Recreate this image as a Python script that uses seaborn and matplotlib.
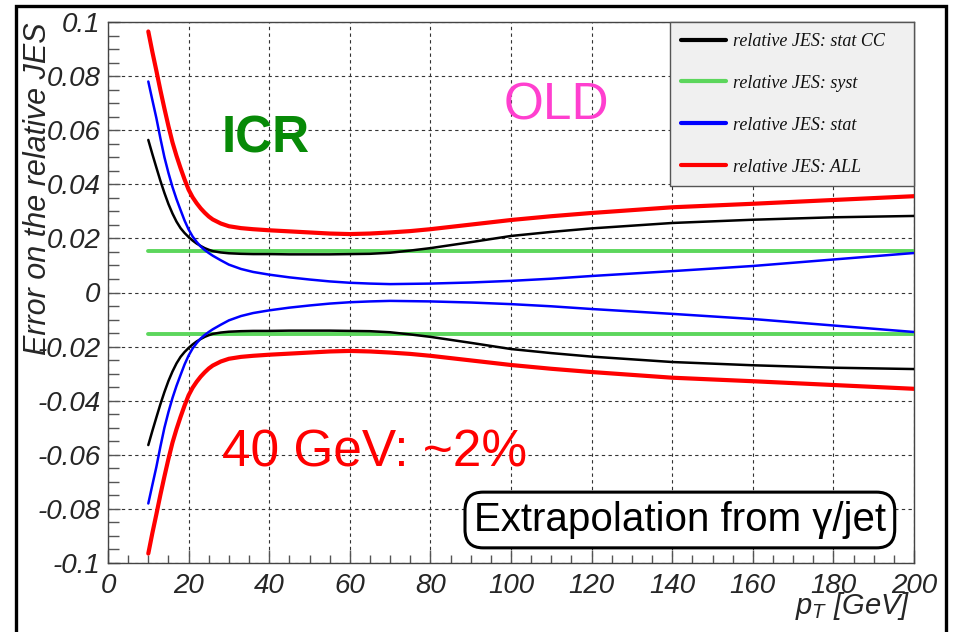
import matplotlib
matplotlib.use("Agg")
import matplotlib.pyplot as plt
import matplotlib.patches as mpatches
from matplotlib.ticker import MultipleLocator, FixedLocator, FixedFormatter
import seaborn as sns
import pandas as pd

# ---------------- data ----------------
pt = [10, 11, 12, 13, 14, 15, 16, 17, 18, 19, 20, 21, 22, 23, 24, 25, 26, 28, 30, 33, 36, 40,
      45, 50, 55, 60, 65, 70, 75, 80, 90, 100, 110, 120, 140, 160, 180, 200]

all_up = [0.0965, 0.0890, 0.0820, 0.0748, 0.0680, 0.0615, 0.0555, 0.0505, 0.0460, 0.0418, 0.0380,
          0.0352, 0.0330, 0.0311, 0.0295, 0.0281, 0.0270, 0.0255, 0.0245, 0.0238, 0.0234, 0.0230,
          0.0226, 0.0222, 0.0218, 0.0216, 0.0218, 0.0222, 0.0227, 0.0234, 0.0251, 0.0268, 0.0282,
          0.0294, 0.0315, 0.0328, 0.0342, 0.0356]
all_dn = [-0.0965, -0.0890, -0.0820, -0.0748, -0.0680, -0.0615, -0.0555, -0.0505, -0.0460, -0.0418, -0.0380,
          -0.0352, -0.0330, -0.0311, -0.0295, -0.0281, -0.0270, -0.0255, -0.0245, -0.0238, -0.0234, -0.0230,
          -0.0226, -0.0222, -0.0218, -0.0216, -0.0218, -0.0222, -0.0227, -0.0234, -0.0251, -0.0268, -0.0282,
          -0.0294, -0.0315, -0.0328, -0.0342, -0.0356]

statcc_up = [0.0564, 0.0512, 0.0462, 0.0413, 0.0368, 0.0327, 0.0292, 0.0262, 0.0238, 0.0220, 0.0205,
             0.0192, 0.0181, 0.0172, 0.0164, 0.0158, 0.0153, 0.0148, 0.0145, 0.0143, 0.0142, 0.0142,
             0.0141, 0.0141, 0.0141, 0.0142, 0.0143, 0.0147, 0.0155, 0.0164, 0.0186, 0.0209, 0.0224,
             0.0237, 0.0257, 0.0269, 0.0278, 0.0283]
statcc_dn = [-0.0564, -0.0512, -0.0462, -0.0413, -0.0368, -0.0327, -0.0292, -0.0262, -0.0238, -0.0220, -0.0205,
             -0.0192, -0.0181, -0.0172, -0.0164, -0.0158, -0.0153, -0.0148, -0.0145, -0.0143, -0.0142, -0.0142,
             -0.0141, -0.0141, -0.0141, -0.0142, -0.0143, -0.0147, -0.0155, -0.0164, -0.0186, -0.0209, -0.0224,
             -0.0237, -0.0257, -0.0269, -0.0278, -0.0283]

stat_up = [0.0780, 0.0712, 0.0645, 0.0570, 0.0500, 0.0442, 0.0390, 0.0345, 0.0305, 0.0266, 0.0233,
           0.0207, 0.0187, 0.0170, 0.0157, 0.0146, 0.0136, 0.0119, 0.0103, 0.0087, 0.0076, 0.0066,
           0.0056, 0.0048, 0.0041, 0.0036, 0.0033, 0.0031, 0.0032, 0.0033, 0.0037, 0.0043, 0.0051,
           0.0061, 0.0079, 0.0098, 0.0122, 0.0146]
stat_dn = [-0.0780, -0.0712, -0.0645, -0.0570, -0.0500, -0.0442, -0.0390, -0.0345, -0.0305, -0.0266, -0.0233,
           -0.0207, -0.0187, -0.0170, -0.0157, -0.0146, -0.0136, -0.0119, -0.0103, -0.0087, -0.0076, -0.0066,
           -0.0056, -0.0048, -0.0041, -0.0036, -0.0033, -0.0031, -0.0032, -0.0033, -0.0037, -0.0043, -0.0051,
           -0.0061, -0.0079, -0.0098, -0.0122, -0.0146]

syst_pt = [10, 200]
syst_up = [0.0155, 0.0155]
syst_dn = [-0.0155, -0.0155]

xtick_vals = [0, 20, 40, 60, 80, 100, 120, 140, 160, 180, 200]
xtick_labels = ["0", "20", "40", "60", "80", "100", "120", "140", "160", "180", "200"]
ytick_vals = [-0.1, -0.08, -0.06, -0.04, -0.02, 0, 0.02, 0.04, 0.06, 0.08, 0.1]
ytick_labels = ["-0.1", "-0.08", "-0.06", "-0.04", "-0.02", "0", "0.02", "0.04", "0.06", "0.08", "0.1"]

legend_labels = ["relative JES: stat CC", "relative JES: syst", "relative JES: stat", "relative JES: ALL"]

# ---------------- style ----------------
sns.set_style("white")
plt.rcParams['font.family'] = ['Liberation Sans', 'DejaVu Sans']
plt.rcParams['mathtext.fontset'] = 'custom'
plt.rcParams['mathtext.it'] = 'Liberation Sans:italic'
plt.rcParams['mathtext.rm'] = 'Liberation Sans:italic'

fig = plt.figure(figsize=(9.57, 6.32), dpi=100)
fig.patch.set_facecolor('white')
ax = fig.add_axes([108 / 957, (632 - 563) / 632, 806 / 957, 541 / 632])

df_cc_up = pd.DataFrame({"pt": pt, "v": statcc_up})
df_cc_dn = pd.DataFrame({"pt": pt, "v": statcc_dn})
df_sy_up = pd.DataFrame({"pt": syst_pt, "v": syst_up})
df_sy_dn = pd.DataFrame({"pt": syst_pt, "v": syst_dn})
df_st_up = pd.DataFrame({"pt": pt, "v": stat_up})
df_st_dn = pd.DataFrame({"pt": pt, "v": stat_dn})
df_al_up = pd.DataFrame({"pt": pt, "v": all_up})
df_al_dn = pd.DataFrame({"pt": pt, "v": all_dn})

c_cc, c_sy, c_st, c_al = "black", "#5cd65c", "#0000ff", "#ff0000"

sns.lineplot(data=df_sy_up, x="pt", y="v", ax=ax, color=c_sy, lw=2.8, label=legend_labels[1], zorder=3)
sns.lineplot(data=df_sy_dn, x="pt", y="v", ax=ax, color=c_sy, lw=2.8, legend=False, zorder=3)
sns.lineplot(data=df_cc_up, x="pt", y="v", ax=ax, color=c_cc, lw=1.8, label=legend_labels[0], zorder=4)
sns.lineplot(data=df_cc_dn, x="pt", y="v", ax=ax, color=c_cc, lw=1.8, legend=False, zorder=4)
sns.lineplot(data=df_st_up, x="pt", y="v", ax=ax, color=c_st, lw=1.8, label=legend_labels[2], zorder=5)
sns.lineplot(data=df_st_dn, x="pt", y="v", ax=ax, color=c_st, lw=1.8, legend=False, zorder=5)
sns.lineplot(data=df_al_up, x="pt", y="v", ax=ax, color=c_al, lw=3.0, label=legend_labels[3], zorder=6)
sns.lineplot(data=df_al_dn, x="pt", y="v", ax=ax, color=c_al, lw=3.0, legend=False, zorder=6)

ax.set_xlim(0, 200)
ax.set_ylim(-0.1, 0.1)
ax.set_xlabel("")
ax.set_ylabel("")

# ticks
ax.xaxis.set_major_locator(FixedLocator(xtick_vals))
ax.xaxis.set_major_formatter(FixedFormatter(xtick_labels))
ax.yaxis.set_major_locator(FixedLocator(ytick_vals))
ax.yaxis.set_major_formatter(FixedFormatter(ytick_labels))
ax.xaxis.set_minor_locator(MultipleLocator(5))
ax.yaxis.set_minor_locator(MultipleLocator(0.005))
ax.tick_params(axis='both', which='both', direction='in', color='#555555', width=1,
               top=False, right=False, bottom=True, left=True)
ax.tick_params(axis='x', which='major', length=9.4, pad=7, labelsize=20)
ax.tick_params(axis='x', which='minor', length=5.8)
ax.tick_params(axis='y', which='major', length=8.6, pad=5.5, labelsize=20)
ax.tick_params(axis='y', which='minor', length=7.6)
for lab in ax.get_xticklabels() + ax.get_yticklabels():
    lab.set_fontstyle('italic')
    lab.set_fontfamily(['Liberation Sans', 'DejaVu Sans'])

for sp in ax.spines.values():
    sp.set_color('#444444')
    sp.set_linewidth(1.0)

ax.grid(True, which='major', linestyle=(0, (3, 3)), color='#333333', lw=0.8)
ax.set_axisbelow(True)

# axis titles
ax.text(-0.0868, 1.0, "Error on the relative JES", transform=ax.transAxes, rotation=90,
        ha='center', va='top', fontsize=22, fontstyle='italic')
ax.text(0.995, -0.094, r"$p_{T}$ [GeV]", transform=ax.transAxes, ha='right',
        va='baseline', fontsize=21, fontstyle='italic')

# annotations
ax.text(39.2, 0.0516, "ICR", color="#078a07", fontsize=37, fontweight='bold',
        ha='center', va='baseline', zorder=7)
ax.text(111.3, 0.0638, "OLD", color="#ff3fcf", fontsize=37, ha='center', va='baseline', zorder=7)
ax.text(28.3, -0.0645, "40 GeV: ~2%", color="#ff0000", fontsize=37, ha='left', va='baseline', zorder=7)
ax.text(141.9, -0.0841, "Extrapolation from γ/jet", color="black", fontsize=29,
        ha='center', va='center', zorder=8,
        bbox=dict(boxstyle='round,pad=0.22,rounding_size=0.45', fc='white', ec='black', lw=2.2))

# legend
h, l = ax.get_legend_handles_labels()
order = [l.index(s) for s in legend_labels]
leg = ax.legend([h[i] for i in order], [l[i] for i in order],
                loc='upper left', bbox_to_anchor=(0.697, 0.70, 0.303, 0.30), mode='expand',
                borderaxespad=0, borderpad=0.6, labelspacing=1.38, handlelength=2.5,
                handletextpad=0.4, fancybox=False, framealpha=1,
                prop={'family': 'Liberation Serif', 'style': 'italic', 'size': 13})
leg.get_frame().set_facecolor('#f0f0f0')
leg.get_frame().set_edgecolor('#555555')
leg.get_frame().set_linewidth(1.0)
for line in leg.get_lines():
    line.set_linewidth(3.0)
for t in leg.get_texts():
    t.set_color('#111111')
leg.set_zorder(10)

# outer frame of the whole picture
frame = mpatches.Rectangle((16 / 957, -0.05), 930 / 957, 1.05 - 6 / 632,
                           transform=fig.transFigure, fill=False, ec='black', lw=2.4, clip_on=False)
fig.patches.append(frame)

fig.savefig("out.png", dpi=100)
